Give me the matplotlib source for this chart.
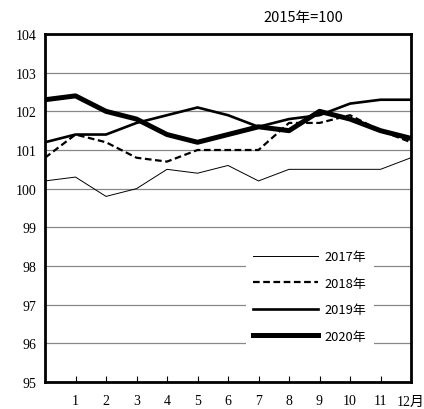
import matplotlib
matplotlib.use("Agg")
import matplotlib.pyplot as plt

months = list(range(0, 13))
xtick_pos = list(range(1, 13))
xtick_labels = ["1", "2", "3", "4", "5", "6", "7", "8", "9", "10", "11", "12月"]
yticks = list(range(95, 105))

s2017 = [100.2, 100.3, 99.8, 100.0, 100.5, 100.4, 100.6, 100.2, 100.5, 100.5, 100.5, 100.5, 100.8]
s2018 = [100.8, 101.4, 101.2, 100.8, 100.7, 101.0, 101.0, 101.0, 101.7, 101.7, 101.9, 101.5, 101.2]
s2019 = [101.2, 101.4, 101.4, 101.7, 101.9, 102.1, 101.9, 101.6, 101.8, 101.9, 102.2, 102.3, 102.3]
s2020 = [102.3, 102.4, 102.0, 101.8, 101.4, 101.2, 101.4, 101.6, 101.5, 102.0, 101.8, 101.5, 101.3]
labels = ["2017年", "2018年", "2019年", "2020年"]

serif = ["Liberation Serif", "Noto Sans CJK JP"]
sans = ["Noto Sans CJK JP", "DejaVu Sans"]

fig = plt.figure(figsize=(4.24, 4.10), dpi=100)
ax = fig.add_axes([45/424, 1-383/410, (411-45)/424, (383-35)/410])

ax.plot(months, s2017, color="black", lw=0.7, label=labels[0])
ax.plot(months, s2018, color="black", lw=1.6, ls=(0, (3, 1.6)), label=labels[1])
ax.plot(months, s2019, color="black", lw=1.9, label=labels[2])
ax.plot(months, s2020, color="black", lw=3.6, label=labels[3])

ax.set_xlim(0, 12)
ax.set_ylim(95, 104)
ax.set_yticks(yticks)
ax.set_yticklabels([str(v) for v in yticks], fontfamily=serif, fontsize=10)
ax.set_xticks(xtick_pos)
ax.set_xticklabels(xtick_labels, fontfamily=serif, fontsize=10)
ax.tick_params(axis="x", direction="in", length=4, width=0.8, pad=9)
ax.tick_params(axis="y", length=0, pad=6)
ax.yaxis.grid(True, color="#888888", lw=0.9)
ax.set_axisbelow(True)
for sp in ax.spines.values():
    sp.set_linewidth(2.0)

leg = ax.legend(loc="upper left", bbox_to_anchor=((246-45)/366, (383-244)/348),
                frameon=True, fancybox=False, edgecolor="none", facecolor="white", framealpha=1,
                prop={"family": sans, "size": 9.3}, handlelength=5.0, handletextpad=0.55,
                labelspacing=1.05, borderpad=0.55, borderaxespad=0)

fig.text(303/424, 1-18/410, "2015年=100", fontfamily=sans, fontsize=10.5, ha="center", va="center")

fig.savefig("out.png", dpi=100)
